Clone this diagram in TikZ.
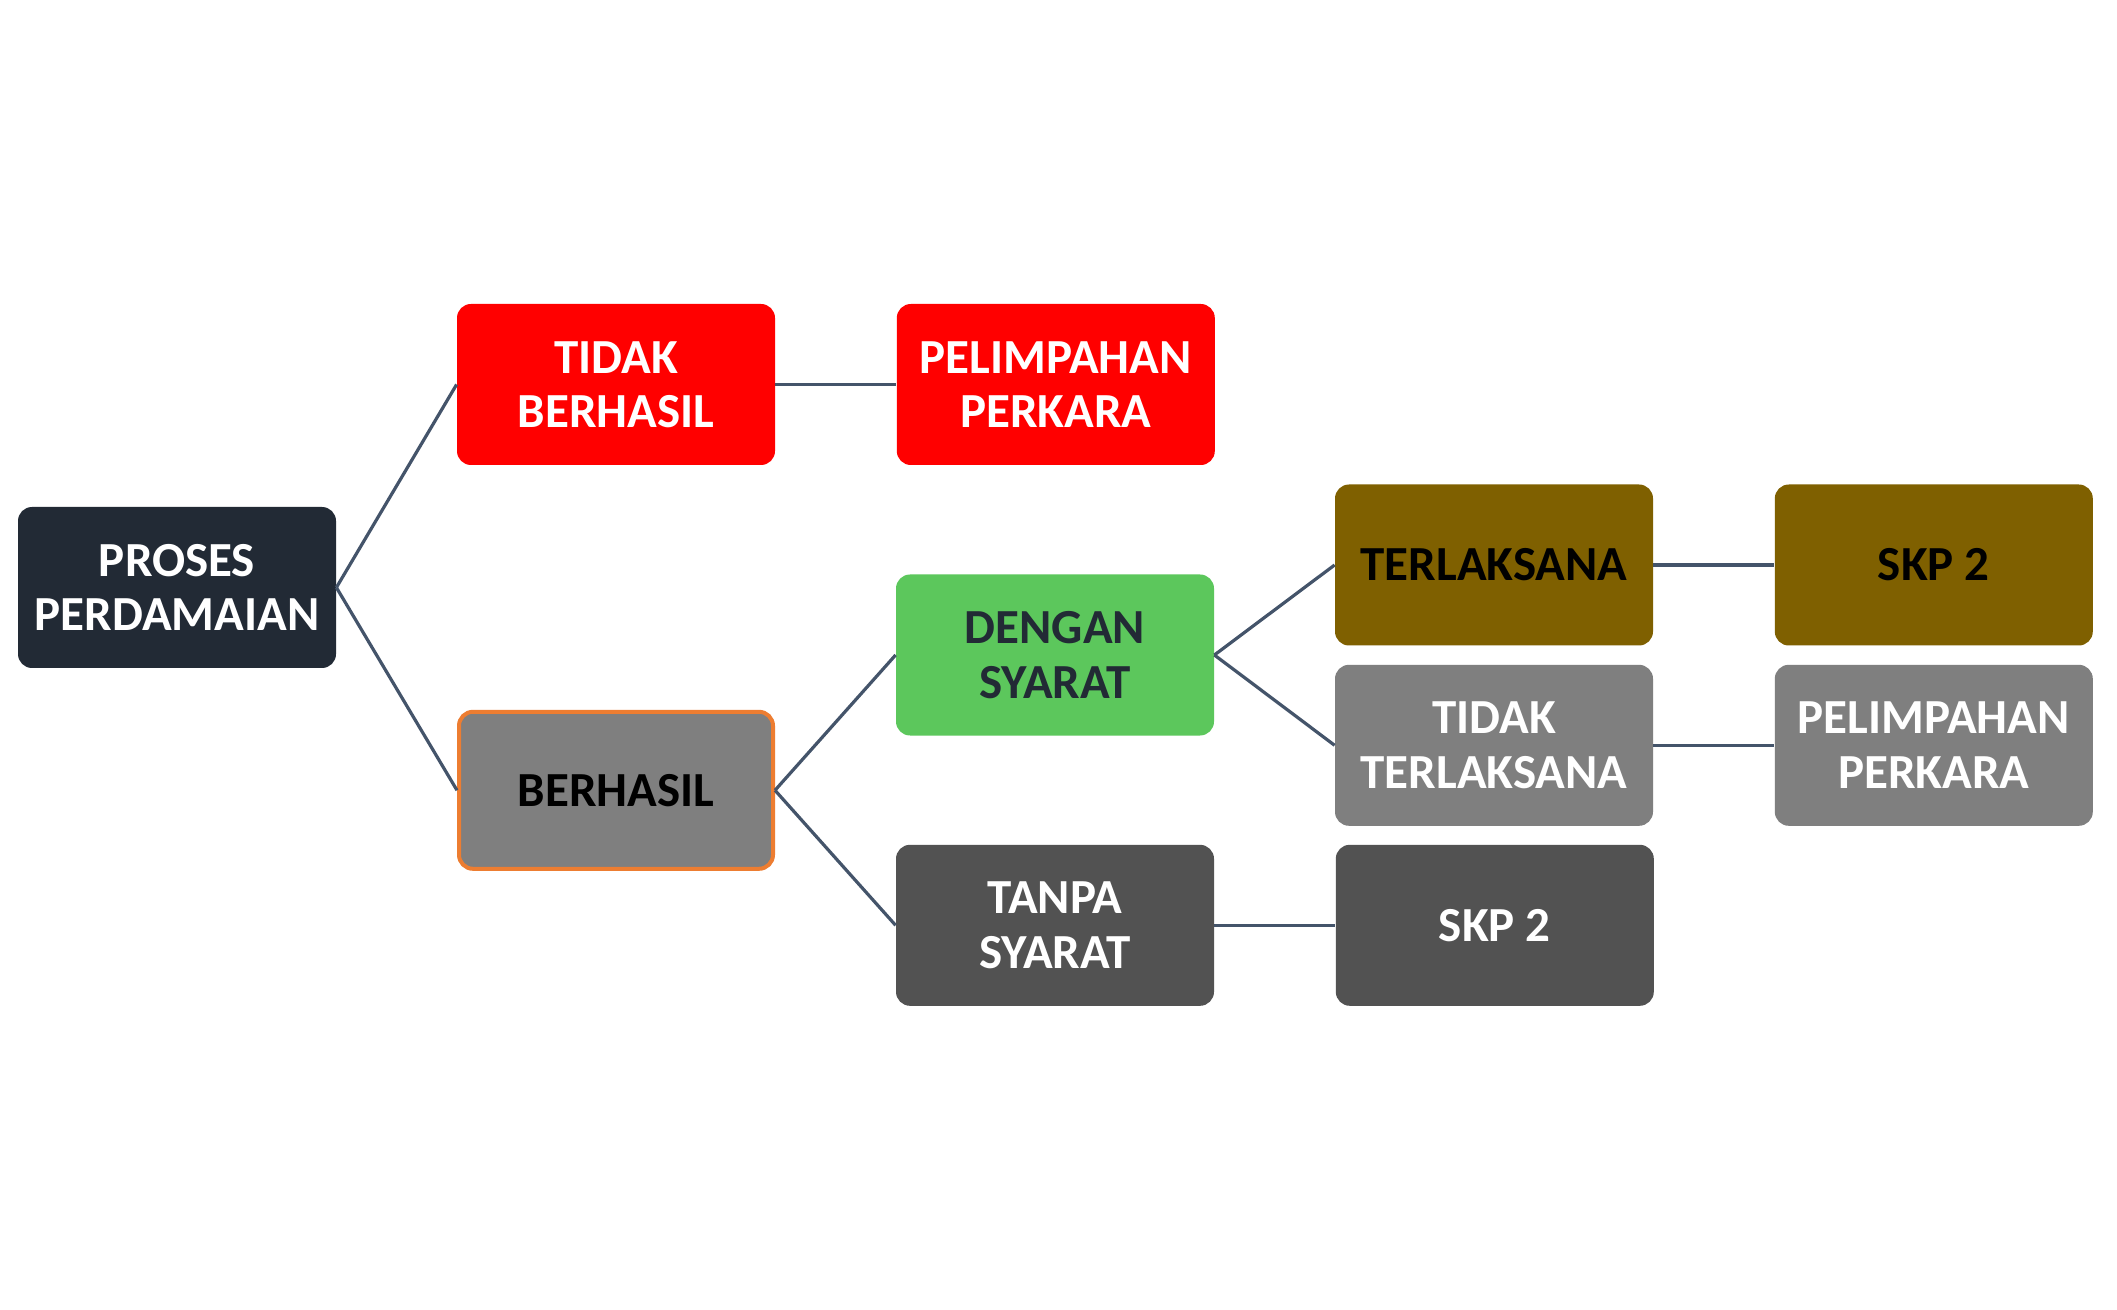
\documentclass[tikz,border=0pt]{standalone}
\usepackage{fontspec}
\setmainfont{Carlito}
\usetikzlibrary{positioning}

\definecolor{navy}{HTML}{222A35}
\definecolor{linkcol}{HTML}{44546A}
\definecolor{olive}{HTML}{7F6000}
\definecolor{midgray}{HTML}{7F7F7F}
\definecolor{darkgray}{HTML}{525252}
\definecolor{leaf}{HTML}{5CC75C}
\definecolor{edge}{HTML}{ED7D31}

\begin{document}
\begin{tikzpicture}[x=0.5pt,y=0.5pt,node distance=60.5pt,
  every node/.style={font=\fontsize{24.5}{27.2}\selectfont\bfseries},
  box/.style={rectangle,rounded corners=7pt,draw=none,minimum width=159pt,minimum height=80.5pt,inner sep=0pt,align=center},
  link/.style={draw=linkcol,line width=1.6pt}]
\useasboundingbox[fill=white] (0,0) rectangle (2117,-1310);
\node[box, fill=navy, text=white] (proses) at (177,-587.5) {PROSES\\PERDAMAIAN};
\node[box, fill=red, text=white] (gagal) at (616,-384.5) {TIDAK\\BERHASIL};
\node[box, fill=red, text=white] (limpah1) [right=of gagal] {PELIMPAHAN\\PERKARA};
\node[box, fill=midgray, text=black, draw=edge, line width=2pt, minimum width=157pt, minimum height=78.5pt] (hasil) at (616,-790.3) {BERHASIL};
\node[box, fill=leaf, text=navy] (syarat) at (1055,-655) {DENGAN\\SYARAT};
\node[box, fill=darkgray, text=white] (tanpa) at (1055,-925.3) {TANPA\\SYARAT};
\node[box, fill=olive, text=black] (laksana) at (1494,-565) {TERLAKSANA};
\node[box, fill=midgray, text=white] (tlaksana) at (1494,-745.3) {TIDAK\\TERLAKSANA};
\node[box, fill=olive, text=black] (skpa) [right=of laksana] {SKP 2};
\node[box, fill=midgray, text=white] (limpah2) [right=of tlaksana] {PELIMPAHAN\\PERKARA};
\node[box, fill=darkgray, text=white] (skpb) [right=of tanpa] {SKP 2};
\path[link] (proses.east) -- (gagal.west);
\path[link] (proses.east) -- (hasil.west);
\path[link] (gagal.east) -- (limpah1.west);
\path[link] (hasil.east) -- (syarat.west);
\path[link] (hasil.east) -- (tanpa.west);
\path[link] (syarat.east) -- (laksana.west);
\path[link] (syarat.east) -- (tlaksana.west);
\path[link] (laksana.east) -- (skpa.west);
\path[link] (tlaksana.east) -- (limpah2.west);
\path[link] (tanpa.east) -- (skpb.west);
\end{tikzpicture}
\end{document}
